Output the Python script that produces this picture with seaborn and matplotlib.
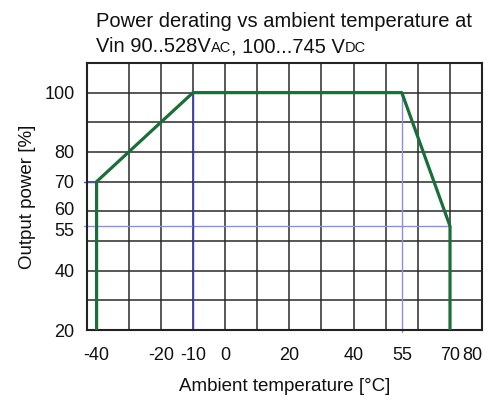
import matplotlib
matplotlib.use('Agg')
import matplotlib.pyplot as plt
import matplotlib.transforms as mtransforms
import pandas as pd
import seaborn as sns

# derating curve
temp = [-40, -40, -10, 55, 70, 70]
power = [20, 70, 100, 100, 55, 20]

x_ticks = [-40, -20, -10, 0, 20, 40, 55, 70, 80]
y_ticks = [20, 40, 55, 60, 70, 80, 100]
x_grid = [-30, -20, -10, 0, 10, 20, 30, 40, 50, 60, 70]
y_grid = [30, 40, 50, 60, 70, 80, 90, 100]

sns.set_style('white')
plt.rcParams['font.family'] = ['Liberation Sans', 'DejaVu Sans']

fig = plt.figure(figsize=(4.94, 4.01), dpi=100)
ax = fig.add_axes([0.176, 0.177, 0.8, 0.666])

for gx in x_grid:
    ax.axvline(gx, color='#2a2a2a', lw=1.1, zorder=1)
for gy in y_grid:
    ax.axhline(gy, color='#2a2a2a', lw=1.1, zorder=1)

# blue marker lines
ax.plot([-44, -40], [70, 70], color='#4a4ad8', lw=1.0, clip_on=False, zorder=2)
ax.plot([-44, 70], [55, 55], color='#8c8cf0', lw=1.0, clip_on=False, zorder=2)
ax.plot([-10, -10], [20, 100], color='#3c3cc8', lw=1.0, zorder=2)
ax.plot([55, 55], [19.3, 100], color='#8c8cf0', lw=1.0, clip_on=False, zorder=2)

df = pd.DataFrame({'temp': temp, 'power': power})
sns.lineplot(data=df, x='temp', y='power', sort=False, estimator=None,
             color='#1a6f38', lw=2.3, ax=ax, zorder=3)

ax.set_xlim(-43, 80)
ax.set_ylim(20, 110)
ax.set_xticks(x_ticks)
ax.set_xticklabels([str(v) for v in x_ticks])
ax.get_xticklabels()[-1].set_ha('right')
ax.set_yticks(y_ticks)
ax.set_yticklabels([str(v) for v in y_ticks])
ax.tick_params(axis='both', length=0, labelsize=13, labelcolor='#111111')
ax.tick_params(axis='y', pad=9)
ax.tick_params(axis='x', pad=12)
for s in ax.spines.values():
    s.set_color('#222222')
    s.set_linewidth(1.5)

# 55 and 60 sit close together, push them apart a little
ylabels = ax.get_yticklabels()
for lab in ylabels:
    if lab.get_text() == '60':
        lab.set_transform(lab.get_transform() + mtransforms.ScaledTranslation(0, 3 / 100, fig.dpi_scale_trans))
    if lab.get_text() == '55':
        lab.set_transform(lab.get_transform() + mtransforms.ScaledTranslation(0, -3 / 100, fig.dpi_scale_trans))

ax.set_xlabel('Ambient temperature [°C]', fontsize=13.5, labelpad=10, color='#111111')
ax.set_ylabel('Output power [%]', fontsize=13.5, labelpad=6, color='#111111')

# title with small-caps style AC / DC
fig.text(0.194, 0.933, 'Power derating vs ambient temperature at', fontsize=14.5,
         va='baseline', color='#111111')
pieces = [('Vin 90..528V', 14.5), ('AC', 10.5), (', 100...745 V', 14.5), ('DC', 10.5)]
fig.canvas.draw()
renderer = fig.canvas.get_renderer()
trans = fig.transFigure
for txt, size in pieces:
    t = fig.text(0.194, 0.870, txt, fontsize=size, va='baseline', transform=trans,
                 color='#111111')
    ex = t.get_window_extent(renderer=renderer)
    trans = mtransforms.offset_copy(t.get_transform(), fig=fig, x=ex.width, units='dots')

fig.savefig('out.png', dpi=100)
